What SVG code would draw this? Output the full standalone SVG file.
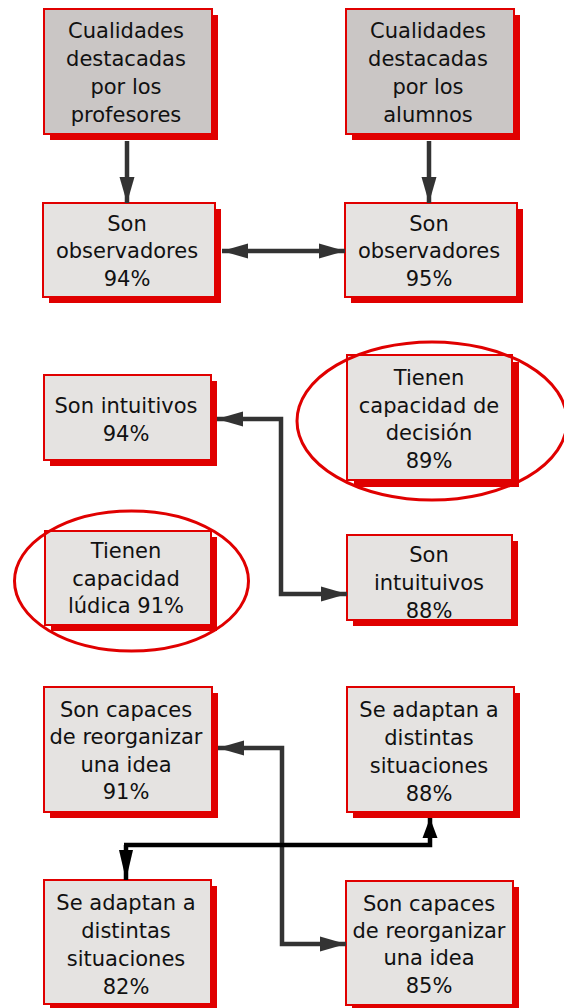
<svg xmlns="http://www.w3.org/2000/svg" width="564" height="1008" viewBox="0 0 564 1008">
<defs>
<marker id="ag" markerUnits="userSpaceOnUse" markerWidth="27" markerHeight="16" refX="26" refY="8" orient="auto-start-reverse" viewBox="0 0 27 16"><path d="M0,0.5 L26,8 L0,15.5 z" fill="#333333"/></marker>
<marker id="akd" markerUnits="userSpaceOnUse" markerWidth="30" markerHeight="15" refX="30" refY="7.5" orient="auto" viewBox="0 0 30 15"><path d="M0,0.5 L30,7.5 L0,14.5 z" fill="#000000"/></marker>
<marker id="aku" markerUnits="userSpaceOnUse" markerWidth="20" markerHeight="16" refX="20" refY="8" orient="auto" viewBox="0 0 20 16"><path d="M0,0.5 L20,8 L0,15.5 z" fill="#000000"/></marker>
</defs>
<style>
.sh{fill:#e00000}
.bx{fill:#e5e3e1;stroke:#e00000;stroke-width:2}
.bd{fill:#cac6c5;stroke:#e00000;stroke-width:2}
.t{font-family:"DejaVu Sans",Verdana,sans-serif;font-size:21px;fill:#111111;text-anchor:middle}
.c{fill:none;stroke:#333333;stroke-width:4.5}
.k{fill:none;stroke:#000000;stroke-width:4.5}
.el{fill:none;stroke:#e00000;stroke-width:3}
</style>
<rect width="564" height="1008" fill="#ffffff"/>
<g id="n1"><rect class="sh" x="50" y="15" width="168" height="125"/><rect class="bd" x="44" y="9" width="168" height="125"/>
<text class="t" x="126" y="38">Cualidades</text><text class="t" x="126" y="66">destacadas</text><text class="t" x="126" y="94">por los</text><text class="t" x="126" y="122">profesores</text></g>
<g id="n2"><rect class="sh" x="352" y="15" width="168" height="125"/><rect class="bd" x="346" y="9" width="168" height="125"/>
<text class="t" x="428" y="38">Cualidades</text><text class="t" x="428" y="66">destacadas</text><text class="t" x="428" y="94">por los</text><text class="t" x="428" y="122">alumnos</text></g>
<g id="n3"><rect class="sh" x="49" y="209" width="172" height="94"/><rect class="bx" x="43" y="203" width="172" height="94"/>
<text class="t" x="127" y="231">Son</text><text class="t" x="127" y="258">observadores</text><text class="t" x="127" y="286">94%</text></g>
<g id="n4"><rect class="sh" x="351" y="209" width="172" height="94"/><rect class="bx" x="345" y="203" width="172" height="94"/>
<text class="t" x="429" y="231">Son</text><text class="t" x="429" y="258">observadores</text><text class="t" x="429" y="286">95%</text></g>
<g id="n5"><rect class="sh" x="50" y="381" width="167" height="85"/><rect class="bx" x="44" y="375" width="167" height="85"/>
<text class="t" x="126" y="413">Son intuitivos</text><text class="t" x="126" y="441">94%</text></g>
<g id="n6"><rect class="sh" x="354" y="362" width="165" height="125"/><rect class="bx" x="347" y="355" width="165" height="125"/>
<text class="t" x="429" y="385">Tienen</text><text class="t" x="429" y="413">capacidad de</text><text class="t" x="429" y="440">decisión</text><text class="t" x="429" y="468">89%</text>
<ellipse class="el" cx="432" cy="421" rx="135" ry="79"/></g>
<g id="n7"><rect class="sh" x="51" y="537" width="166" height="94"/><rect class="bx" x="45" y="531" width="166" height="94"/>
<text class="t" x="126" y="558">Tienen</text><text class="t" x="126" y="586">capacidad</text><text class="t" x="126" y="613">lúdica 91%</text>
<ellipse class="el" cx="131.5" cy="581" rx="117" ry="70"/></g>
<g id="n8"><rect class="sh" x="353" y="541" width="165" height="85"/><rect class="bx" x="347" y="535" width="165" height="85"/>
<text class="t" x="429" y="562">Son</text><text class="t" x="429" y="590">intuituivos</text><text class="t" x="429" y="618">88%</text></g>
<g id="n9"><rect class="sh" x="50" y="693" width="168" height="125"/><rect class="bx" x="44" y="687" width="168" height="125"/>
<text class="t" x="126" y="717">Son capaces</text><text class="t" x="126" y="744">de reorganizar</text><text class="t" x="126" y="772">una idea</text><text class="t" x="126" y="799">91%</text></g>
<g id="n10"><rect class="sh" x="353" y="693" width="167" height="125"/><rect class="bx" x="347" y="687" width="167" height="125"/>
<text class="t" x="429" y="717">Se adaptan a</text><text class="t" x="429" y="745">distintas</text><text class="t" x="429" y="773">situaciones</text><text class="t" x="429" y="801">88%</text></g>
<g id="n11"><rect class="sh" x="50" y="886" width="167" height="124"/><rect class="bx" x="44" y="880" width="167" height="124"/>
<text class="t" x="126" y="910">Se adaptan a</text><text class="t" x="126" y="938">distintas</text><text class="t" x="126" y="966">situaciones</text><text class="t" x="126" y="994">82%</text></g>
<g id="n12"><rect class="sh" x="352" y="887" width="167" height="124"/><rect class="bx" x="346" y="881" width="167" height="124"/>
<text class="t" x="429" y="911">Son capaces</text><text class="t" x="429" y="938">de reorganizar</text><text class="t" x="429" y="965">una idea</text><text class="t" x="429" y="993">85%</text></g>
<g id="connectors">
<path class="c" d="M127,141 L127,203" marker-end="url(#ag)"/>
<path class="c" d="M429,141 L429,203" marker-end="url(#ag)"/>
<path class="c" d="M222,251 L345,251" marker-start="url(#ag)" marker-end="url(#ag)"/>
<path class="c" d="M217,419 L281,419 L281,594 L347,594" marker-start="url(#ag)" marker-end="url(#ag)"/>
<path class="c" d="M218,748 L282,748 L282,944 L346,944" marker-start="url(#ag)" marker-end="url(#ag)"/>
<path class="k" d="M126,845 L126,880" marker-end="url(#akd)"/>
<path class="k" d="M124,845 L430,845 L430,818" marker-end="url(#aku)"/>
</g>
</svg>
